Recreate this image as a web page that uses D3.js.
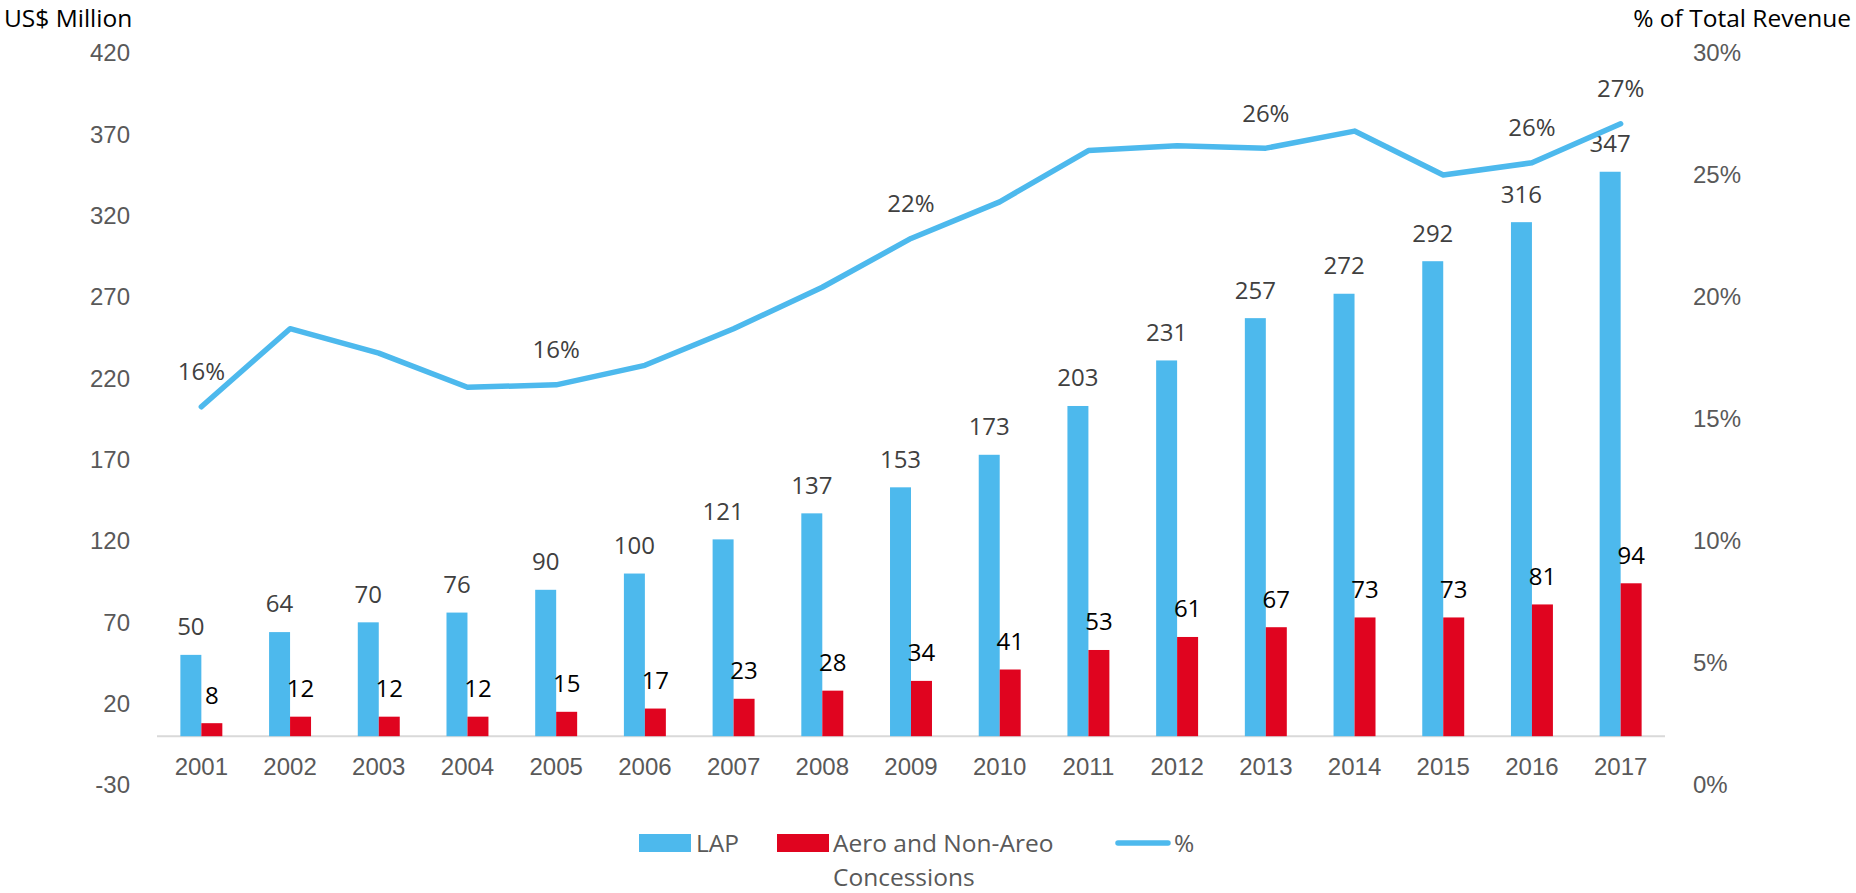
<!DOCTYPE html>
<html>
<head>
<meta charset="utf-8">
<style>
    body { margin: 0; background: #fff; }
    svg { font-family: "Open Sans", sans-serif; }
    .tick line, .domain { display: none; }
    .axis text { fill: #595959; font-size: 24px; }
    .lbl { fill: #404040; font-size: 24px; }
    .lbl2 { fill: #000; font-size: 24px; }
    .legend text { fill: #595959; font-size: 24.5px; }
</style>
<script src="https://cdn.jsdelivr.net/npm/d3@7"></script>
</head>
<body>
<script>
    let years = ["2001","2002","2003","2004","2005","2006","2007","2008","2009",
                 "2010","2011","2012","2013","2014","2015","2016","2017"];
    let lap  = [50, 64, 70, 76, 90, 100, 121, 137, 153, 173, 203, 231, 257, 272, 292, 316, 347];
    let aero = [8, 12, 12, 12, 15, 17, 23, 28, 34, 41, 53, 61, 67, 73, 73, 81, 94];
    let pct  = [15.5, 18.7, 17.7, 16.3, 16.4, 17.2, 18.7, 20.4, 22.4, 23.9, 26.0, 26.2, 26.1, 26.8, 25.0, 25.5, 27.1];
    let pctLabelYears = ["2001","2005","2009","2013","2016","2017"];
    let leftTicks = [-30, 20, 70, 120, 170, 220, 270, 320, 370, 420];
    let rightTicks = [0, 5, 10, 15, 20, 25, 30];
    let seriesNames = ["LAP", "Aero and Non-Areo Concessions", "%"];

    let blue = "#4db9ed", red = "#e0041f";
    let w = 1856, h = 893;

    let svg = d3.select("body").append("svg")
        .attr("width", w)
        .attr("height", h);

    let x = d3.scaleBand()
        .domain(years)
        .range([157, 1665])
        .paddingInner(0.527)
        .paddingOuter(0.2635);

    let xs = d3.scaleBand()
        .domain(["lap", "aero"])
        .range([0, x.bandwidth()]);

    let y = d3.scaleLinear().domain([-30, 420]).range([785, 53]);
    let y2 = d3.scaleLinear().domain([0, 30]).range([785, 53]);

    // axes
    svg.append("g").attr("class", "axis")
        .attr("transform", "translate(130,0)")
        .call(d3.axisLeft(y).tickValues(leftTicks).tickSize(0).tickPadding(0)
            .tickFormat(d => String(d)));

    svg.append("g").attr("class", "axis")
        .attr("transform", "translate(1693,0)")
        .call(d3.axisRight(y2).tickValues(rightTicks).tickSize(0).tickPadding(0)
            .tickFormat(d => d + "%"));

    svg.append("g").attr("class", "axis")
        .attr("transform", "translate(0," + y(0) + ")")
        .call(d3.axisBottom(x).tickSize(0).tickPadding(22));

    svg.append("line")
        .attr("x1", 157).attr("x2", 1665)
        .attr("y1", y(0)).attr("y2", y(0))
        .attr("stroke", "#d9d9d9")
        .attr("stroke-width", 2);

    // axis titles
    svg.append("text")
        .attr("x", 4).attr("y", 27)
        .attr("font-size", 24.5).attr("fill", "#000")
        .text("US$ Million");

    svg.append("text")
        .attr("x", 1851).attr("y", 27)
        .attr("text-anchor", "end")
        .attr("font-size", 24.5).attr("fill", "#000")
        .text("% of Total Revenue");

    // bars
    let bars = years.map((yr, i) => ({year: yr, lap: lap[i], aero: aero[i], pct: pct[i]}));

    svg.selectAll("rect.lap")
        .data(bars)
        .join("rect")
            .attr("class", "lap")
            .attr("x", d => x(d.year) + xs("lap"))
            .attr("y", d => y(d.lap))
            .attr("width", xs.bandwidth())
            .attr("height", d => y(0) - y(d.lap))
            .attr("fill", blue);

    svg.selectAll("rect.aero")
        .data(bars)
        .join("rect")
            .attr("class", "aero")
            .attr("x", d => x(d.year) + xs("aero"))
            .attr("y", d => y(d.aero))
            .attr("width", xs.bandwidth())
            .attr("height", d => y(0) - y(d.aero))
            .attr("fill", red);

    svg.selectAll("text.lapl")
        .data(bars)
        .join("text")
            .attr("class", "lbl lapl")
            .attr("text-anchor", "middle")
            .attr("x", d => x(d.year) + xs("lap") + xs.bandwidth() / 2)
            .attr("y", d => y(d.lap) - 28)
            .attr("dy", "0.35em")
            .text(d => d.lap);

    svg.selectAll("text.aerol")
        .data(bars)
        .join("text")
            .attr("class", "lbl2 aerol")
            .attr("text-anchor", "middle")
            .attr("x", d => x(d.year) + xs("aero") + xs.bandwidth() / 2)
            .attr("y", d => y(d.aero) - 28)
            .attr("dy", "0.35em")
            .text(d => d.aero);

    // percentage line
    let line = d3.line()
        .x(d => x(d.year) + x.bandwidth() / 2)
        .y(d => y2(d.pct));

    svg.append("path")
        .attr("d", line(bars))
        .attr("fill", "none")
        .attr("stroke", blue)
        .attr("stroke-width", 5.5)
        .attr("stroke-linecap", "round")
        .attr("stroke-linejoin", "round");

    svg.selectAll("text.pctl")
        .data(bars.filter(d => pctLabelYears.includes(d.year)))
        .join("text")
            .attr("class", "lbl pctl")
            .attr("text-anchor", "middle")
            .attr("x", d => x(d.year) + x.bandwidth() / 2)
            .attr("y", d => y2(d.pct) - 35)
            .attr("dy", "0.35em")
            .text(d => Math.round(d.pct) + "%");

    // legend
    let lg = svg.append("g").attr("class", "legend");
    lg.append("rect").attr("x", 639).attr("y", 834).attr("width", 52).attr("height", 18).attr("fill", blue);
    lg.append("text").attr("x", 696).attr("y", 852).text(seriesNames[0]);
    lg.append("rect").attr("x", 777).attr("y", 834).attr("width", 52).attr("height", 18).attr("fill", red);
    let t2 = lg.append("text").attr("x", 833).attr("y", 852);
    t2.append("tspan").attr("x", 833).text("Aero and Non-Areo");
    t2.append("tspan").attr("x", 833).attr("dy", 34).text("Concessions");
    lg.append("line")
        .attr("x1", 1118).attr("x2", 1168).attr("y1", 843).attr("y2", 843)
        .attr("stroke", blue).attr("stroke-width", 5.5).attr("stroke-linecap", "round");
    lg.append("text").attr("x", 1174).attr("y", 852).text(seriesNames[2]);
</script>
</body>
</html>
